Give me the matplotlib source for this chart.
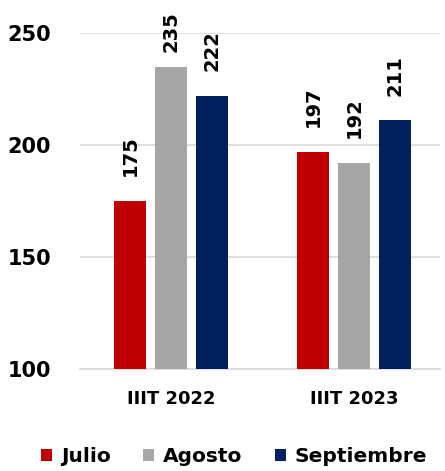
import matplotlib
matplotlib.use("Agg")
import matplotlib.pyplot as plt
import numpy as np

# data
periods = ["IIIT 2022", "IIIT 2023"]
months = ["Julio", "Agosto", "Septiembre"]
values = {
    "Julio": [175, 197],
    "Agosto": [235, 192],
    "Septiembre": [222, 211],
}
colors = {"Julio": "#C00000", "Agosto": "#A6A6A6", "Septiembre": "#002060"}

plt.rcParams["font.family"] = ["DejaVu Sans"]
plt.rcParams["font.weight"] = "bold"

fig = plt.figure(figsize=(4.45, 4.71), dpi=100)
ax = fig.add_axes([80 / 445, 102 / 471, 360 / 445, 336 / 471])

x = np.arange(len(periods))
width = 0.175
step = 0.224

for i, m in enumerate(months):
    pos = x + (i - 1) * step
    bars = ax.bar(pos, values[m], width=width, color=colors[m], label=m, zorder=3)
    for b, v in zip(bars, values[m]):
        # label sits above the bar, kept inside the chart area like Excel does
        ly = min(v + 11, 241.5)
        ax.text(b.get_x() + b.get_width() / 2, ly, str(v), rotation=90,
                ha="center", va="bottom", fontsize=14, fontweight="bold",
                clip_on=False)

ax.set_ylim(100, 250)
ax.set_xlim(-0.497, 1.47)
ax.set_yticks([100, 150, 200, 250])
ax.yaxis.grid(True, color="#D9D9D9", linewidth=1.2, zorder=0)
ax.set_xticks(x)
ax.set_xticklabels(periods, fontsize=13, fontweight="bold")
ax.tick_params(axis="y", labelsize=15, length=0, pad=21)
ax.tick_params(axis="x", length=0, pad=15)
for lbl in ax.get_yticklabels():
    lbl.set_fontweight("bold")
for s in ["top", "right", "left"]:
    ax.spines[s].set_visible(False)
ax.spines["bottom"].set_color("#D9D9D9")
ax.spines["bottom"].set_linewidth(1.2)

ax.legend(loc="center", bbox_to_anchor=(234 / 360 - 80 / 360, -88 / 336), ncol=3,
          frameon=False, fontsize=14.5, handlelength=0.55, handleheight=0.55,
          handletextpad=0.45, columnspacing=1.6, borderaxespad=0, borderpad=0)

fig.savefig("out.png", dpi=100)
